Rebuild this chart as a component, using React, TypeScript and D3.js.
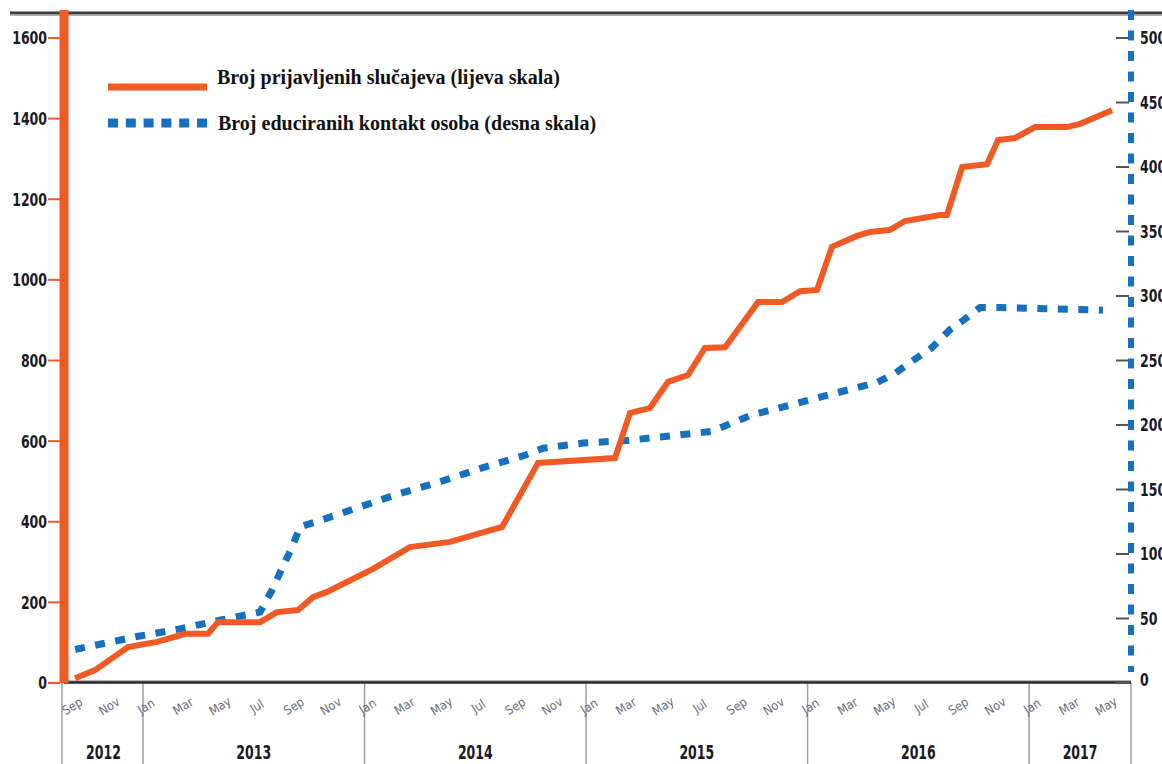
import React from 'react'
import * as d3 from 'd3'

// months counted from Sep 2012 (0 = Sep 2012)
const casesMonth = [0.32, 1.4, 3.19, 4.76, 6.28, 7.52, 8.06, 10.34, 11.26, 12.4, 13.21, 13.97, 15.59, 16.46, 18.46, 20.63, 23.45, 25.4, 29.57, 30.38, 31.46, 32.44, 33.52, 34.44, 35.53, 37.32, 38.62, 39.59, 40.51, 41.32, 42.68, 43.38, 44.47, 45.28, 47.17, 47.55, 48.37, 49.72, 50.32, 51.24, 52.32, 54.05, 54.76, 56.49]
const casesValue = [12, 32, 89, 102, 122, 122, 151, 151, 176, 181, 213, 226, 263, 283, 337, 350, 387, 546, 558, 670, 682, 747, 764, 831, 833, 945, 945, 972, 975, 1082, 1109, 1119, 1124, 1146, 1161, 1161, 1280, 1287, 1347, 1352, 1379, 1379, 1387, 1421]

const contactsMonth = [0.32, 3.67, 6.0, 8.28, 10.34, 10.99, 11.53, 12.07, 12.5, 13.59, 15.65, 17.92, 20.09, 22.42, 24.58, 25.67, 27.84, 30.22, 34.82, 35.8, 37.04, 39.21, 41.6, 43.76, 44.74, 45.71, 46.74, 47.72, 48.42, 49.34, 50.42, 56.0]
const contactsValue = [26, 36, 42, 49, 55, 72, 89, 105, 121, 126, 136, 147, 156, 167, 176, 182, 186, 188, 195, 201, 208, 216, 225, 233, 240, 250, 260, 274, 281, 291, 291, 289]

const leftTicks = [0, 200, 400, 600, 800, 1000, 1200, 1400, 1600]
const rightTicks = [0, 50, 100, 150, 200, 250, 300, 350, 400, 450, 500]
const monthNames = ['Jan', 'Feb', 'Mar', 'Apr', 'May', 'Jun', 'Jul', 'Aug', 'Sep', 'Oct', 'Nov', 'Dec']
const years = ['2012', '2013', '2014', '2015', '2016', '2017']
const yearStarts = [4, 16, 28, 40, 52] // Jan of 2013..2017

const legendCases = 'Broj prijavljenih slučajeva (lijeva skala)'
const legendContacts = 'Broj educiranih kontakt osoba (desna skala)'

const W = 1162
const H = 764
const ORANGE = '#f15a24'
const BLUE = '#1570bf'
const numFont = "'DejaVu Sans Condensed', 'Liberation Sans', sans-serif"
const serifFont = "'Liberation Serif', 'DejaVu Serif', serif"

// condensed bold numbers, squeezed to the width seen in the picture
const Num = (props: { x: number; y: number; anchor: string; label: string; size?: number; dy?: string }) => (
  <text x={props.x} y={props.y} dy={props.dy} textAnchor={props.anchor}
    fontFamily={numFont} fontWeight="bold" fontSize={props.size || 18} fill="#1a1a26"
    textLength={props.label.length * 8.7} lengthAdjust="spacingAndGlyphs">
    {props.label}
  </text>
)

export default function App() {
  const x = d3.scaleLinear().domain([-0.28, 57.52]).range([64, 1131])
  const yL = d3.scaleLinear().domain([0, 1600]).range([683, 38])
  const yR = d3.scaleLinear().domain([0, 500]).range([683, 38])

  const casesLine = d3.line<number>()
    .x((d, i) => x(casesMonth[i]))
    .y(d => yL(d))
  const contactsLine = d3.line<number>()
    .x((d, i) => x(contactsMonth[i]))
    .y(d => yR(d))

  const monthTicks = d3.range(0, 57, 2)
  const bounds = [x.domain()[0], ...yearStarts, x.domain()[1]]

  return (
    <svg width={W} height={H} style={{ display: 'block', position: 'absolute', left: 0, top: 0, background: '#fff' }}>
      {/* top frame line */}
      <line x1={10} x2={W} y1={13} y2={13} stroke="#3c3c3c" strokeWidth={3} />
      <line x1={10} x2={W} y1={15.5} y2={15.5} stroke="#b0b0b0" strokeWidth={1} />

      {/* year separators */}
      {bounds.map((b, i) => (
        <line key={'b' + i} x1={x(b) - (i === 0 ? 2 : 0)} x2={x(b) - (i === 0 ? 2 : 0)} y1={683} y2={H} stroke="#a0a0a0" strokeWidth={1.5} />
      ))}

      {/* x axis line */}
      <line x1={64} x2={1131} y1={681} y2={681} stroke="#b5b5b5" strokeWidth={2} />
      <line x1={64} x2={1131} y1={682.5} y2={682.5} stroke="#2a2a2a" strokeWidth={2.5} />

      {/* month labels */}
      {monthTicks.map(m => (
        <text key={'m' + m} transform={`translate(${x(m) + 3},${706}) rotate(-32)`}
          textAnchor="middle" dominantBaseline="central"
          fontFamily="'DejaVu Sans Condensed', sans-serif" fontSize={12.5} fill="#6c6c84">
          {monthNames[(8 + m) % 12]}
        </text>
      ))}

      {/* year labels */}
      {years.map((yr, i) => (
        <Num key={yr} x={(x(bounds[i]) + x(bounds[i + 1])) / 2} y={759} anchor="middle" label={yr} size={19} />
      ))}

      {/* series */}
      <path d={contactsLine(contactsValue) || ''} fill="none" stroke={BLUE} strokeWidth={7} strokeDasharray="10,10.5" />
      <path d={casesLine(casesValue) || ''} fill="none" stroke={ORANGE} strokeWidth={6} />

      {/* left axis */}
      {leftTicks.map(t => (
        <g key={'l' + t}>
          <line x1={48} x2={60} y1={yL(t)} y2={yL(t)} stroke={ORANGE} strokeWidth={2} />
          <Num x={47} y={yL(t)} dy="0.36em" anchor="end" label={String(t)} />
        </g>
      ))}
      <line x1={64} x2={64} y1={10} y2={683} stroke={ORANGE} strokeWidth={9} />

      {/* right axis */}
      {rightTicks.map(t => (
        <g key={'r' + t}>
          <line x1={1116} x2={1129} y1={yR(t)} y2={yR(t)} stroke="#555" strokeWidth={2} />
          <Num x={1140} y={t === 0 ? yR(t) - 3 : yR(t)} dy="0.36em" anchor="start" label={String(t)} />
        </g>
      ))}
      <line x1={1131} x2={1131} y1={10} y2={672} stroke={BLUE} strokeWidth={6} strokeDasharray="10,10.5" />

      {/* legend */}
      <line x1={108} x2={207} y1={87} y2={87} stroke={ORANGE} strokeWidth={7} />
      <text x={217} y={84} fontFamily={serifFont} fontWeight="bold" fontSize={20} fill="#111">{legendCases}</text>
      <line x1={108} x2={207} y1={123} y2={123} stroke={BLUE} strokeWidth={9} strokeDasharray="10,7.8" />
      <text x={218} y={130} fontFamily={serifFont} fontWeight="bold" fontSize={20} fill="#111">{legendContacts}</text>
    </svg>
  )
}
